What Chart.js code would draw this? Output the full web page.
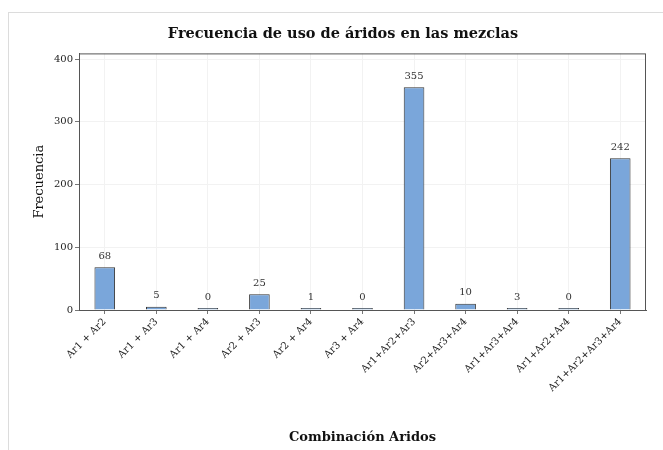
<!DOCTYPE html>
<html>
<head>
    <script src="https://cdn.jsdelivr.net/npm/chart.js@4.4.0/dist/chart.umd.min.js"></script>
    <style>
        body { margin: 0; overflow: hidden; background: #fff; }
        #marco { position: absolute; left: 8px; top: 12px; width: 700px; height: 480px; border: 1px solid #dcdcdc; pointer-events: none; }
        #grafico { position: absolute; left: 0; top: 0; }
    </style>
</head>
<body>
    <div id="marco"></div>
    <canvas id="grafico" width="663" height="450"></canvas>

    <script>
        const categorias = ["Ar1 + Ar2", "Ar1 + Ar3", "Ar1 + Ar4", "Ar2 + Ar3", "Ar2 + Ar4", "Ar3 + Ar4",
            "Ar1+Ar2+Ar3", "Ar2+Ar3+Ar4", "Ar1+Ar3+Ar4", "Ar1+Ar2+Ar4", "Ar1+Ar2+Ar3+Ar4"];
        const frecuencias = [68, 5, 0, 25, 1, 0, 355, 10, 3, 0, 242];
        const ticksY = [0, 100, 200, 300, 400];

        const fuente = "'DejaVu Serif', 'Liberation Serif', serif";

        // etiquetas encima de cada barra
        const etiquetas = {
            id: 'etiquetas',
            afterDatasetsDraw(chart) {
                const ctx = chart.ctx;
                const meta = chart.getDatasetMeta(0);
                ctx.save();
                ctx.font = "10px " + fuente;
                ctx.fillStyle = '#333';
                ctx.textAlign = 'center';
                ctx.textBaseline = 'middle';
                meta.data.forEach((bar, i) => {
                    ctx.fillText(frecuencias[i], bar.x, bar.y - 11);
                });
                ctx.restore();
            }
        };

        // borde del panel
        const panel = {
            id: 'panel',
            afterDraw(chart) {
                const a = chart.chartArea;
                const ctx = chart.ctx;
                ctx.save();
                ctx.strokeStyle = '#555';
                ctx.lineWidth = 1;
                ctx.strokeRect(a.left + 0.5, a.top + 0.5, a.right - a.left - 1, a.bottom - a.top);
                ctx.restore();
            }
        };

        let ctx = document.getElementById('grafico').getContext('2d');
        let grafico = new Chart(ctx, {
            type: 'bar',
            data: {
                labels: categorias,
                datasets: [{
                    data: frecuencias,
                    backgroundColor: '#7aa6da',
                    borderColor: '#333',
                    borderWidth: 1,
                    barPercentage: 0.4,
                    categoryPercentage: 1,
                    minBarLength: 2
                }]
            },
            options: {
                responsive: false,
                animation: false,
                layout: { padding: { left: 40, right: 17, top: 0, bottom: 0 } },
                plugins: {
                    legend: { display: false },
                    tooltip: { enabled: false },
                    title: {
                        display: true,
                        text: 'Frecuencia de uso de áridos en las mezclas',
                        color: '#111',
                        font: { family: fuente, size: 14.5, weight: 'bold' },
                        padding: { top: 26, bottom: 10 }
                    }
                },
                scales: {
                    x: {
                        offset: true,
                        grid: { offset: false, color: '#f2f2f2', tickColor: '#777', tickLength: 4 },
                        border: { display: true, color: '#555' },
                        ticks: {
                            color: '#222',
                            font: { family: fuente, size: 10 },
                            maxRotation: 45,
                            minRotation: 45,
                            autoSkip: false,
                            padding: 2
                        },
                        title: {
                            display: true,
                            text: 'Combinación Aridos',
                            color: '#111',
                            font: { family: fuente, size: 13, weight: 'bold' },
                            padding: { top: 0, bottom: 5 }
                        },
                        afterFit(scale) { scale.height = 140; }
                    },
                    y: {
                        min: 0,
                        max: 409,
                        afterBuildTicks(scale) {
                            scale.ticks = ticksY.map(v => ({ value: v }));
                        },
                        grid: { color: '#f2f2f2', tickColor: '#777', tickLength: 4 },
                        border: { display: true, color: '#555' },
                        ticks: {
                            color: '#222',
                            font: { family: fuente, size: 10 },
                            padding: 2
                        },
                        title: {
                            display: true,
                            text: 'Frecuencia',
                            color: '#111',
                            font: { family: fuente, size: 13 },
                            padding: { top: -8, bottom: 0 }
                        },
                        afterFit(scale) { scale.width = 39; }
                    }
                }
            },
            plugins: [etiquetas, panel]
        });
    </script>
</body>
</html>
